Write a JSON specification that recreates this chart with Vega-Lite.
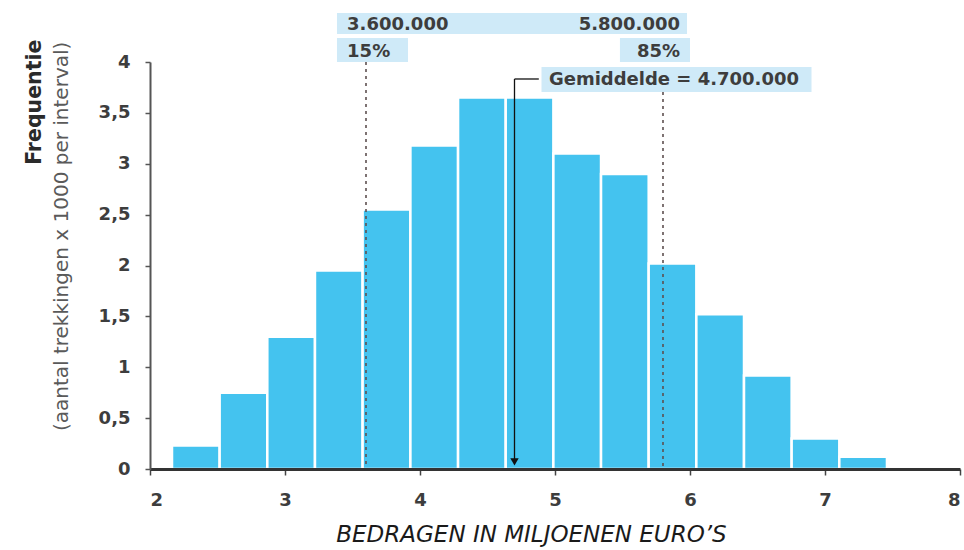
{
  "$schema": "https://vega.github.io/schema/vega-lite/v6.json",
  "width": 810,
  "height": 407,
  "autosize": "none",
  "padding": {"left": 150, "top": 62, "right": 4, "bottom": 81},
  "background": "white",
  "config": {
    "view": {"stroke": null},
    "font": "DejaVu Sans"
  },
  "datasets": {
    "bins": [
      {"x0": 2.163, "x1": 2.516, "freq": 0.23},
      {"x0": 2.516, "x1": 2.869, "freq": 0.75},
      {"x0": 2.869, "x1": 3.222, "freq": 1.3},
      {"x0": 3.222, "x1": 3.575, "freq": 1.95},
      {"x0": 3.575, "x1": 3.929, "freq": 2.55},
      {"x0": 3.929, "x1": 4.282, "freq": 3.18},
      {"x0": 4.282, "x1": 4.635, "freq": 3.65},
      {"x0": 4.635, "x1": 4.988, "freq": 3.65},
      {"x0": 4.988, "x1": 5.341, "freq": 3.1},
      {"x0": 5.341, "x1": 5.694, "freq": 2.9},
      {"x0": 5.694, "x1": 6.047, "freq": 2.02},
      {"x0": 6.047, "x1": 6.4, "freq": 1.52},
      {"x0": 6.4, "x1": 6.753, "freq": 0.92},
      {"x0": 6.753, "x1": 7.106, "freq": 0.3},
      {"x0": 7.106, "x1": 7.459, "freq": 0.12}
    ],
    "boxes": [
      {"x": 3.385, "x2": 5.978, "y": 4.275, "y2": 4.482},
      {"x": 3.385, "x2": 3.911, "y": 4.0, "y2": 4.236},
      {"x": 5.481, "x2": 6.0, "y": 4.0, "y2": 4.236},
      {"x": 4.9, "x2": 6.9, "y": 3.705, "y2": 3.951}
    ],
    "percentiles": [
      {"label": "15%", "value": 3.6, "top": 4.0},
      {"label": "85%", "value": 5.8, "top": 3.705}
    ],
    "mean": [
      {"value": 4.7, "top": 3.833, "leaderEnd": 4.88, "tip": 0.07}
    ],
    "notesLeft": [
      {"text": "3.600.000", "x": 3.46, "y": 4.36},
      {"text": "15%", "x": 3.46, "y": 4.1},
      {"text": "Gemiddelde = 4.700.000", "x": 4.955, "y": 3.82}
    ],
    "notesRight": [
      {"text": "5.800.000", "x": 5.926, "y": 4.36},
      {"text": "85%", "x": 5.926, "y": 4.1}
    ],
    "ytitleMain": [
      {"text": "Frequentie", "x": 1.15, "y": 4.22}
    ],
    "ytitleSub": [
      {"text": "(aantal trekkingen x 1000 per interval)", "x": 1.35, "y": 4.2}
    ]
  },
  "layer": [
    {
      "data": {"name": "boxes"},
      "mark": {"type": "rect", "color": "#cfeaf8"},
      "encoding": {
        "x": {"field": "x", "type": "quantitative",
              "scale": {"domain": [2, 8], "nice": false, "zero": false},
              "axis": {
                "values": [2, 3, 4, 5, 6, 7, 8],
                "format": "~g",
                "grid": false, "zindex": 1,
                "domainColor": "#333333", "domainWidth": 3,
                "tickColor": "#444444", "tickSize": 6, "tickWidth": 1.5,
                "labelFont": "DejaVu Sans", "labelFontSize": 18, "labelFontWeight": "bold",
                "labelColor": "#3d3d3d", "labelPadding": 16,
                "title": "BEDRAGEN IN MILJOENEN EURO’S",
                "titleFont": "DejaVu Sans", "titleFontStyle": "italic", "titleFontWeight": "normal",
                "titleFontSize": 23, "titleColor": "#1a1a1a",
                "titleX": 381, "titleY": 72, "titleAlign": "center", "titleBaseline": "alphabetic"
              }},
        "x2": {"field": "x2"},
        "y": {"field": "y", "type": "quantitative",
              "scale": {"domain": [0, 4], "nice": false},
              "axis": {
                "values": [0, 0.5, 1, 1.5, 2, 2.5, 3, 3.5, 4],
                "format": "~g",
                "labelExpr": "replace(datum.label, '.', ',')",
                "grid": false, "zindex": 1,
                "domainColor": "#555555", "domainWidth": 2,
                "tickColor": "#555555", "tickSize": 5, "tickWidth": 1.5,
                "labelFont": "DejaVu Sans", "labelFontSize": 18, "labelFontWeight": "bold",
                "labelColor": "#3d3d3d", "labelPadding": 15,
                "title": null
              }},
        "y2": {"field": "y2"}
      }
    },
    {
      "data": {"name": "bins"},
      "mark": {"type": "rect", "color": "#44c3ef", "stroke": "white", "strokeWidth": 2.5},
      "encoding": {
        "x": {"field": "x0", "type": "quantitative"},
        "x2": {"field": "x1"},
        "y": {"field": "freq", "type": "quantitative"},
        "y2": {"datum": 0}
      }
    },
    {
      "data": {"name": "percentiles"},
      "mark": {"type": "rule", "color": "#5e5050", "strokeWidth": 1.6, "strokeDash": [3, 4]},
      "encoding": {
        "x": {"field": "value", "type": "quantitative"},
        "y": {"field": "top", "type": "quantitative"},
        "y2": {"datum": 0}
      }
    },
    {
      "data": {"name": "mean"},
      "mark": {"type": "rule", "color": "#111111", "strokeWidth": 1.3},
      "encoding": {
        "x": {"field": "value", "type": "quantitative"},
        "y": {"field": "top", "type": "quantitative"},
        "y2": {"field": "tip"}
      }
    },
    {
      "data": {"name": "mean"},
      "mark": {"type": "rule", "color": "#111111", "strokeWidth": 1.3},
      "encoding": {
        "x": {"field": "value", "type": "quantitative"},
        "x2": {"field": "leaderEnd"},
        "y": {"field": "top", "type": "quantitative"}
      }
    },
    {
      "data": {"name": "mean"},
      "mark": {"type": "point", "shape": "triangle-down", "filled": true, "color": "#111111", "size": 70, "opacity": 1},
      "encoding": {
        "x": {"field": "value", "type": "quantitative"},
        "y": {"field": "tip", "type": "quantitative"}
      }
    },
    {
      "data": {"name": "notesLeft"},
      "mark": {"type": "text", "align": "left", "baseline": "middle", "font": "DejaVu Sans", "fontSize": 18, "fontWeight": "bold", "color": "#3d3d3d"},
      "encoding": {
        "x": {"field": "x", "type": "quantitative"},
        "y": {"field": "y", "type": "quantitative"},
        "text": {"field": "text", "type": "nominal"}
      }
    },
    {
      "data": {"name": "notesRight"},
      "mark": {"type": "text", "align": "right", "baseline": "middle", "font": "DejaVu Sans", "fontSize": 18, "fontWeight": "bold", "color": "#3d3d3d"},
      "encoding": {
        "x": {"field": "x", "type": "quantitative"},
        "y": {"field": "y", "type": "quantitative"},
        "text": {"field": "text", "type": "nominal"}
      }
    },
    {
      "data": {"name": "ytitleMain"},
      "mark": {"type": "text", "angle": 270, "align": "right", "baseline": "middle", "font": "DejaVu Sans", "fontSize": 20.5, "fontWeight": "bold", "color": "#2a2a2a"},
      "encoding": {
        "x": {"field": "x", "type": "quantitative"},
        "y": {"field": "y", "type": "quantitative"},
        "text": {"field": "text", "type": "nominal"}
      }
    },
    {
      "data": {"name": "ytitleSub"},
      "mark": {"type": "text", "angle": 270, "align": "right", "baseline": "middle", "font": "DejaVu Sans", "fontSize": 20, "fontWeight": "normal", "color": "#5a5a5a"},
      "encoding": {
        "x": {"field": "x", "type": "quantitative"},
        "y": {"field": "y", "type": "quantitative"},
        "text": {"field": "text", "type": "nominal"}
      }
    }
  ]
}
